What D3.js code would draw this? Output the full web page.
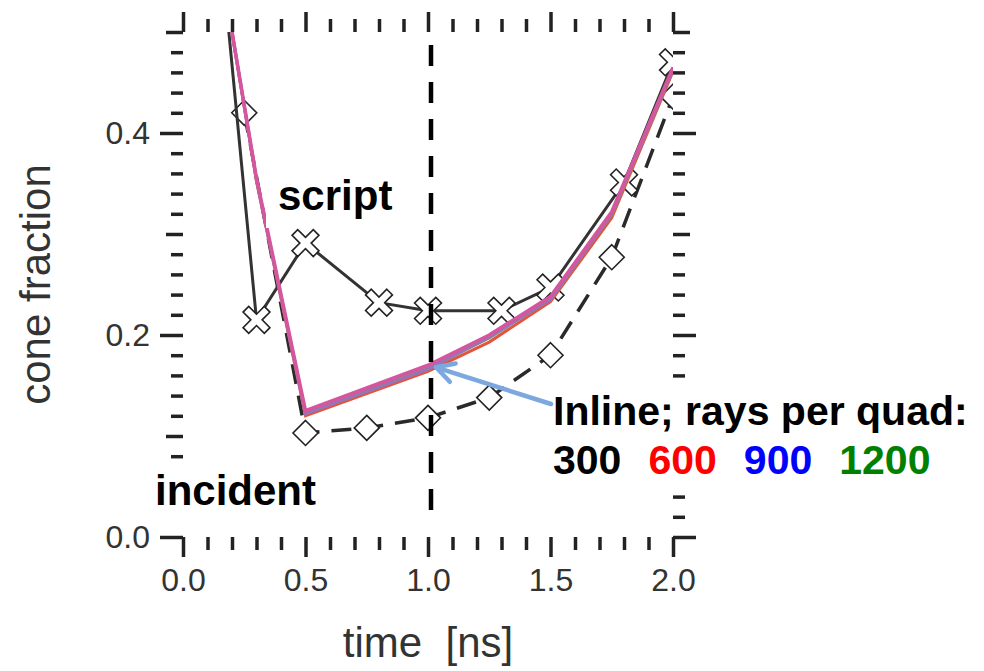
<!DOCTYPE html>
<html>
<head>
<meta charset="utf-8">
<script src="https://cdn.jsdelivr.net/npm/d3@7"></script>
<style>
  html, body { margin: 0; padding: 0; background: #fff; }
  svg { display: block; }
  .tick-label, .title { font-family: "Liberation Sans", Arial, Helvetica, sans-serif; fill: #333; }
  .note { font-family: "Liberation Sans", Arial, Helvetica, sans-serif; font-weight: bold; fill: #000; }
</style>
</head>
<body>
<svg id="chart" width="984" height="671"></svg>
<script>
// ---- data ----
// "script" run (cross markers, solid line)
const scriptTimes  = [0.1, 0.3, 0.5, 0.8, 1.0, 1.3, 1.5, 1.8, 2.0];
const scriptValues = [0.72, 0.215, 0.291, 0.232, 0.224, 0.224, 0.247, 0.351, 0.47];

// "incident" run (diamond markers, dashed line)
const incidentTimes  = [0.25, 0.5, 0.75, 1.0, 1.25, 1.5, 1.75, 2.0];
const incidentValues = [0.42, 0.103, 0.108, 0.118, 0.138, 0.18, 0.277, 0.436];

// inline runs for several rays-per-quad settings
const inlineTimes = [0.2, 0.3, 0.5, 1.0, 1.25, 1.5, 1.75, 2.0];
const inline300   = [0.5, 0.354, 0.123, 0.167, 0.197, 0.236, 0.319, 0.463];
const inline600   = [0.5, 0.352, 0.120, 0.164, 0.193, 0.233, 0.316, 0.461];
const inline900   = [0.5, 0.353, 0.122, 0.166, 0.198, 0.235, 0.320, 0.463];
const inline1200  = [0.5, 0.355, 0.125, 0.170, 0.200, 0.238, 0.322, 0.465];

const raysPerQuad     = ["300", "600", "900", "1200"];
const rayLabelColors  = ["#000000", "#ff0000", "#0000ff", "#008000"];
const rayLineColors   = ["#8a8a70", "#e2553c", "#9276b8", "#d6559f"];

const xTickLabels = [0, 0.5, 1.0, 1.5, 2.0];
const yTickLabels = [0, 0.2, 0.4];
const markerTime  = 1.0;   // vertical reference time

// ---- layout ----
const svg = d3.select("#chart");
const x = d3.scaleLinear().domain([0, 2]).range([183, 673]);
const y = d3.scaleLinear().domain([0, 0.5]).range([537, 32]);
const tickColor = "#222";

// ---- frame ticks (outward on all four sides, no frame line) ----
const xAll = d3.range(0, 21).map(i => i / 10);
const xMajor = xAll.filter((d, i) => i % 5 === 0);
const xMinor = xAll.filter((d, i) => i % 5 !== 0);
const yAll = d3.range(0, 26).map(i => i * 0.02);
const yMajor = yAll.filter((d, i) => i % 10 === 0);
const yMid   = yAll.filter((d, i) => i % 10 !== 0 && i % 5 === 0);
const yMinor = yAll.filter((d, i) => i % 5 !== 0);

function styleAxis(g) {
  g.select(".domain").remove();
  g.selectAll(".tick line").attr("stroke", tickColor).attr("stroke-width", 3.5);
  g.selectAll(".tick text").attr("class", "tick-label").attr("fill", "#333")
    .style("font-family", '"Liberation Sans", Arial, Helvetica, sans-serif');
}

function addAxis(axis, transform, labelled, fontSize) {
  const g = svg.append("g").attr("transform", transform).call(axis);
  styleAxis(g);
  if (!labelled) g.selectAll(".tick text").remove();
  else g.selectAll(".tick text").style("font-size", fontSize + "px");
  return g;
}

// bottom
addAxis(d3.axisBottom(x).tickValues(xMinor).tickSize(13), `translate(0,${y(0)})`, false);
addAxis(d3.axisBottom(x).tickValues(xMajor).tickSize(20).tickPadding(11)
  .tickFormat(d3.format(".1f")), `translate(0,${y(0)})`, true, 32);
// top
addAxis(d3.axisTop(x).tickValues(xMinor).tickSize(13), `translate(0,${y(0.5)})`, false);
addAxis(d3.axisTop(x).tickValues(xMajor).tickSize(20), `translate(0,${y(0.5)})`, false);
// left
addAxis(d3.axisLeft(y).tickValues(yMinor).tickSize(12), `translate(${x(0)},0)`, false);
addAxis(d3.axisLeft(y).tickValues(yMid).tickSize(17), `translate(${x(0)},0)`, false);
addAxis(d3.axisLeft(y).tickValues(yMajor).tickSize(23).tickPadding(10)
  .tickFormat(d3.format(".1f")), `translate(${x(0)},0)`, true, 32)
  .selectAll(".tick text").filter(d => !yTickLabels.some(v => Math.abs(v - d) < 1e-9)).remove();
// right
addAxis(d3.axisRight(y).tickValues(yMinor).tickSize(12), `translate(${x(2)},0)`, false);
addAxis(d3.axisRight(y).tickValues(yMid).tickSize(17), `translate(${x(2)},0)`, false);
addAxis(d3.axisRight(y).tickValues(yMajor).tickSize(23), `translate(${x(2)},0)`, false);

// ---- axis titles ----
svg.append("text").attr("class", "title")
  .attr("x", (x(0) + x(2)) / 2).attr("y", 657)
  .attr("text-anchor", "middle").style("font-size", "42px")
  .attr("xml:space", "preserve").text("time  [ns]");
svg.append("text").attr("class", "title")
  .attr("transform", `translate(50,${(y(0) + y(0.5)) / 2}) rotate(-90)`)
  .attr("text-anchor", "middle").style("font-size", "42px")
  .text("cone fraction");

// ---- plot area ----
svg.append("defs").append("clipPath").attr("id", "plot-clip")
  .append("rect").attr("x", x(0)).attr("y", y(0.5))
  .attr("width", x(2) - x(0)).attr("height", y(0) - y(0.5));
const plot = svg.append("g").attr("clip-path", "url(#plot-clip)");

const line = d3.line().x(d => x(d[0])).y(d => y(d[1]));
const zip = (ts, vs) => ts.map((t, i) => [t, vs[i]]);

const diamondPath = "M0,-12.5L12.5,0L0,12.5L-12.5,0Z";
// thick outlined cross, drawn diagonally
const crossPath = (() => {
  const L = 15, w = 4;
  const pts = [[-w,-L],[w,-L],[w,-w],[L,-w],[L,w],[w,w],[w,L],[-w,L],[-w,w],[-L,w],[-L,-w],[-w,-w]];
  return "M" + pts.map(p => p.join(",")).join("L") + "Z";
})();

// incident: dashed line with diamonds
const incident = zip(incidentTimes, incidentValues);
plot.append("path").datum(incident).attr("d", line)
  .attr("fill", "none").attr("stroke", "#2a2a2a").attr("stroke-width", 3.5)
  .attr("stroke-dasharray", "20,12");
plot.selectAll(".diamond").data(incident).join("path")
  .attr("class", "diamond").attr("d", diamondPath)
  .attr("transform", d => `translate(${x(d[0])},${y(d[1])})`)
  .attr("fill", "#fff").attr("stroke", "#222").attr("stroke-width", 1.6);

// script: solid line with crosses
const script = zip(scriptTimes, scriptValues);
plot.append("path").datum(script).attr("d", line)
  .attr("fill", "none").attr("stroke", "#333").attr("stroke-width", 3);
plot.selectAll(".cross").data(script.slice(1)).join("path")
  .attr("class", "cross").attr("d", crossPath)
  .attr("transform", d => `translate(${x(d[0])},${y(d[1])}) rotate(45)`)
  .attr("fill", "#fff").attr("stroke", "#222").attr("stroke-width", 1.6);

// inline runs, layered
const inlineRuns = [inline600, inline300, inline900, inline1200];
const inlineColorIdx = [1, 0, 2, 3];
inlineRuns.forEach((vals, k) => {
  plot.append("path").datum(zip(inlineTimes, vals)).attr("d", line)
    .attr("fill", "none").attr("stroke", rayLineColors[inlineColorIdx[k]])
    .attr("stroke-width", k === 3 ? 3.6 : 3).attr("stroke-linejoin", "miter");
});

// vertical reference line
svg.append("line")
  .attr("x1", x(markerTime) + 3).attr("x2", x(markerTime) + 3)
  .attr("y1", 45).attr("y2", 522)
  .attr("stroke", "#000").attr("stroke-width", 4.5)
  .attr("stroke-dasharray", "21,16");

// ---- annotations (text boxes with white fill) ----
svg.append("rect").attr("x", 266).attr("y", 160).attr("width", 135).attr("height", 68)
  .attr("fill", "#fff");
svg.append("text").attr("class", "note").attr("x", 278).attr("y", 210)
  .style("font-size", "42px").text("script");

svg.append("rect").attr("x", 150).attr("y", 468).attr("width", 175).attr("height", 56)
  .attr("fill", "#fff");
svg.append("text").attr("class", "note").attr("x", 155).attr("y", 505)
  .style("font-size", "42px").text("incident");

svg.append("rect").attr("x", 548).attr("y", 384).attr("width", 436).attr("height", 102)
  .attr("fill", "#fff");
svg.append("text").attr("class", "note").attr("x", 553).attr("y", 425)
  .style("font-size", "41px").text("Inline; rays per quad:");
let cx = 553;
raysPerQuad.forEach((lab, i) => {
  const t = svg.append("text").attr("class", "note").attr("x", cx).attr("y", 474)
    .style("font-size", "41px").style("fill", rayLabelColors[i]).text(lab);
  cx += t.node().getComputedTextLength() + 27;
});

// arrow pointing at the inline curves
const tip = [x(markerTime) + 8, y(inline1200[3]) + 2];
const tail = [551, 404];
const ang = Math.atan2(tail[1] - tip[1], tail[0] - tip[0]);
const head = 20, spread = 0.5;
const arrow = svg.append("g").attr("stroke", "#7ca8df").attr("stroke-width", 4.5)
  .attr("fill", "none").attr("stroke-linecap", "round").attr("stroke-linejoin", "round");
arrow.append("line").attr("x1", tail[0]).attr("y1", tail[1]).attr("x2", tip[0]).attr("y2", tip[1]);
arrow.append("path").attr("d",
  `M${tip[0] + head * Math.cos(ang - spread)},${tip[1] + head * Math.sin(ang - spread)}` +
  `L${tip[0]},${tip[1]}` +
  `L${tip[0] + head * Math.cos(ang + spread)},${tip[1] + head * Math.sin(ang + spread)}`);
</script>
</body>
</html>
